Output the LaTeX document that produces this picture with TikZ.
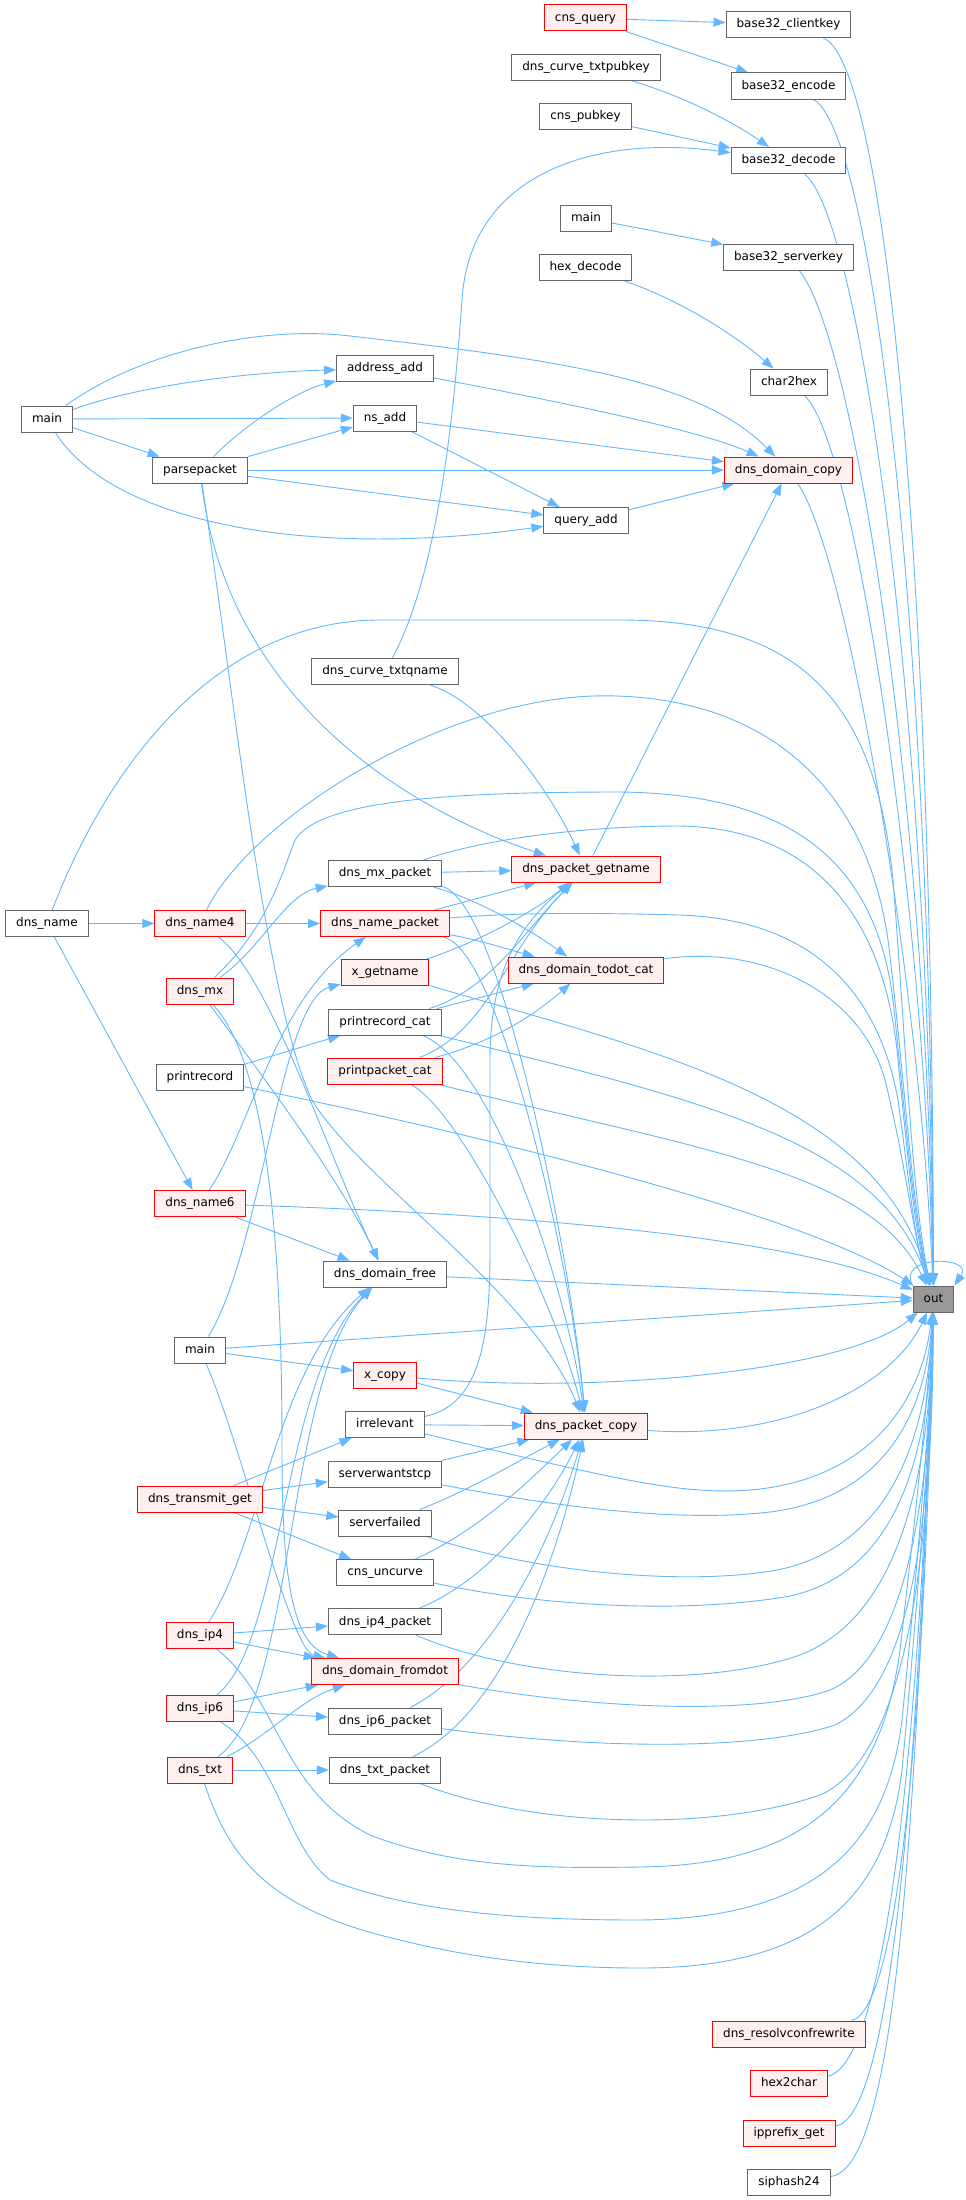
\documentclass[tikz,border=0pt]{standalone}
\usepackage{fontspec}
\setmainfont{DejaVu Sans}
\usetikzlibrary{arrows.meta}
\definecolor{edgec}{HTML}{63B8FF}
\definecolor{nodered}{HTML}{FF0000}
\definecolor{nodepink}{HTML}{FFF0F0}
\definecolor{nodegray}{HTML}{666666}
\definecolor{outfill}{HTML}{999999}
\pgfdeclarelayer{bg}
\pgfsetlayers{bg,main}
\begin{document}
\begin{tikzpicture}[x=1pt,y=-1pt,
  fn/.style={draw=nodegray, fill=white, line width=1pt, minimum height=26pt, inner xsep=10.5pt, inner ysep=0pt, font=\fontsize{12}{14}\selectfont, text height=9pt, text depth=2.5pt},
  fnred/.style={fn, draw=nodered, fill=nodepink},
  fnout/.style={fn, fill=outfill},
  edge/.style={draw=edgec, line width=0.9pt, -{Triangle[length=12pt,width=9pt]}},
]
\useasboundingbox (0,0) rectangle (966,2200);
% nodes
\node[fnred] (cnsquery) at (585.5,18) {cns\_query};
\node[fn] (b32ck) at (788.5,24.6) {base32\_clientkey};
\node[fn] (txtpubkey) at (586,67.5) {dns\_curve\_txtpubkey};
\node[fn] (b32enc) at (788.5,86) {base32\_encode};
\node[fn] (cnspubkey) at (585.5,116.6) {cns\_pubkey};
\node[fn] (b32dec) at (788.5,160.5) {base32\_decode};
\node[fn] (maint) at (586,218) {main};
\node[fn] (b32sk) at (788.5,257) {base32\_serverkey};
\node[fn] (hexdecode) at (585.5,267.6) {hex\_decode};
\node[fn] (char2hex) at (789,382) {char2hex};
\node[fn] (addressadd) at (385,368.6) {address\_add};
\node[fn] (mainl) at (47,419) {main};
\node[fn] (nsadd) at (385,418) {ns\_add};
\node[fn] (parsepacket) at (200,470) {parsepacket};
\node[fnred] (domcopy) at (788.5,470) {dns\_domain\_copy};
\node[fn] (queryadd) at (586,520.5) {query\_add};
\node[fn] (txtqname) at (385,671.5) {dns\_curve\_txtqname};
\node[fn] (mxpacket) at (385,873.5) {dns\_mx\_packet};
\node[fnred] (getname) at (586,869) {dns\_packet\_getname};
\node[fn] (dnsname) at (47,923.5) {dns\_name};
\node[fnred] (name4) at (200,923.5) {dns\_name4};
\node[fnred] (namepacket) at (385,923.5) {dns\_name\_packet};
\node[fnred] (todotcat) at (586,970) {dns\_domain\_todot\_cat};
\node[fnred] (xgetname) at (385,972.6) {x\_getname};
\node[fnred] (dnsmx) at (200,991) {dns\_mx};
\node[fn] (prcat) at (385,1022) {printrecord\_cat};
\node[fn] (printrecord) at (200,1077.6) {printrecord};
\node[fnred] (ppcat) at (385,1071) {printpacket\_cat};
\node[fnred] (name6) at (200,1203.6) {dns\_name6};
\node[fn] (domfree) at (385,1274) {dns\_domain\_free};
\node[fnout] (out) at (933.5,1299) {out};
\node[fn] (mainm) at (200,1350) {main};
\node[fnred] (xcopy) at (385,1375) {x\_copy};
\node[fn] (irrelevant) at (385,1424.6) {irrelevant};
\node[fnred] (pcopy) at (586,1426) {dns\_packet\_copy};
\node[fn] (swtcp) at (385,1474) {serverwantstcp};
\node[fnred] (transmitget) at (200,1499) {dns\_transmit\_get};
\node[fn] (sfailed) at (385,1523) {serverfailed};
\node[fn] (uncurve) at (385,1572.6) {cns\_uncurve};
\node[fn] (ip4packet) at (385,1621.8) {dns\_ip4\_packet};
\node[fnred] (ip4) at (200,1635.5) {dns\_ip4};
\node[fnred] (fromdot) at (385,1671.5) {dns\_domain\_fromdot};
\node[fnred] (ip6) at (200,1708.6) {dns\_ip6};
\node[fn] (ip6packet) at (385,1721) {dns\_ip6\_packet};
\node[fnred] (txt) at (200,1770) {dns\_txt};
\node[fn] (txtpacket) at (385,1770) {dns\_txt\_packet};
\node[fnred] (resolvconf) at (789,2034) {dns\_resolvconfrewrite};
\node[fnred] (hex2char) at (789,2083.5) {hex2char};
\node[fnred] (ipprefix) at (789,2133) {ipprefix\_get};
\node[fn] (siphash) at (789,2182) {siphash24};
\begin{pgfonlayer}{bg}
\fill[white] (0,0) rectangle (966,2200);
% top part
\draw[edge] (cnsquery) -- (b32ck);
\draw[edge] (cnsquery) -- (b32enc);
\draw[edge] (txtpubkey) .. controls (680,95) and (730,120) .. (b32dec);
\draw[edge] (cnspubkey) -- (b32dec);
\draw[edge] (txtqname) .. controls (440,570) and (455,400) .. (462,300) .. controls (470,170) and (600,135) .. (b32dec);
\draw[edge] (maint) -- (b32sk);
\draw[edge] (hexdecode) .. controls (680,300) and (735,335) .. (char2hex);
% to out, from above
\draw[edge] (b32ck) .. controls (880,60) and (932,500) .. (out);
\draw[edge] (b32enc) .. controls (870,130) and (930,600) .. (out);
\draw[edge] (b32dec) .. controls (860,220) and (928,700) .. (out);
\draw[edge] (b32sk) .. controls (855,340) and (926,800) .. (out);
\draw[edge] (char2hex) .. controls (855,440) and (924,900) .. (out);
\draw[edge] (domcopy) .. controls (850,560) and (921,1000) .. (out);
\draw[edge] (dnsname) .. controls (110,760) and (220,620) .. (380,620) -- (620,620) .. controls (800,620) and (875,700) .. (893,880) .. controls (905,1030) and (912,1200) .. (out);
\draw[edge] (name4) .. controls (250,820) and (450,690) .. (616,696) .. controls (760,700) and (865,780) .. (888,940) .. controls (903,1060) and (912,1210) .. (out);
\draw[edge] (dnsmx) .. controls (265,930) and (280,880) .. (295,840) .. controls (320,800) and (450,792) .. (620,792) .. controls (790,794) and (875,860) .. (893,1000) .. controls (905,1110) and (913,1220) .. (out);
\draw[edge] (mxpacket) .. controls (480,840) and (580,826) .. (680,826) .. controls (800,828) and (880,900) .. (897,1050) .. controls (907,1150) and (914,1230) .. (out);
\draw[edge] (namepacket) .. controls (520,912) and (600,913) .. (680,915) .. controls (820,920) and (880,1000) .. (898,1100) .. controls (908,1170) and (914,1240) .. (out);
\draw[edge] (todotcat) .. controls (760,945) and (860,990) .. (885,1080) .. controls (905,1160) and (914,1240) .. (out);
\draw[edge] (xgetname) .. controls (650,1050) and (880,1100) .. (out);
\draw[edge] (prcat) .. controls (700,1100) and (880,1140) .. (out);
\draw[edge] (ppcat) .. controls (700,1150) and (870,1170) .. (out);
\draw[edge] (printrecord) .. controls (600,1160) and (830,1230) .. (out);
\draw[edge] (name6) .. controls (550,1215) and (800,1240) .. (out);
\draw[edge] (domfree) -- (out);
\draw[edge] (mainm) -- (out);
\draw[edge] (xcopy) .. controls (600,1395) and (850,1370) .. (out);
\draw[edge] (pcopy) .. controls (780,1440) and (890,1390) .. (out);
\draw[edge] (irrelevant) .. controls (620,1480) and (680,1495) .. (750,1490) .. controls (870,1480) and (922,1400) .. (out);
\draw[edge] (swtcp) .. controls (600,1515) and (700,1520) .. (770,1512) .. controls (880,1498) and (925,1420) .. (out);
\draw[edge] (sfailed) .. controls (560,1580) and (720,1585) .. (790,1567) .. controls (885,1540) and (926,1450) .. (out);
\draw[edge] (uncurve) .. controls (560,1610) and (700,1612) .. (790,1596) .. controls (885,1575) and (928,1480) .. (out);
\draw[edge] (ip4packet) .. controls (520,1680) and (700,1690) .. (800,1655) .. controls (890,1620) and (929,1500) .. (out);
\draw[edge] (fromdot) .. controls (600,1710) and (760,1715) .. (830,1690) .. controls (900,1660) and (930,1520) .. (out);
\draw[edge] (ip6packet) .. controls (600,1750) and (760,1750) .. (835,1725) .. controls (905,1690) and (931,1550) .. (out);
\draw[edge] (txtpacket) .. controls (540,1830) and (720,1830) .. (820,1795) .. controls (900,1760) and (932,1580) .. (out);
\draw[edge] (ip4) .. controls (280,1700) and (280,1790) .. (370,1835) .. controls (460,1870) and (560,1868) .. (640,1867) .. controls (800,1865) and (880,1800) .. (900,1650) .. controls (915,1520) and (928,1400) .. (out);
\draw[edge] (ip6) .. controls (280,1760) and (285,1845) .. (330,1880) .. controls (420,1915) and (540,1920) .. (640,1920) .. controls (800,1918) and (885,1860) .. (902,1720) .. controls (918,1560) and (930,1420) .. (out);
\draw[edge] (txt) .. controls (230,1860) and (270,1910) .. (400,1940) .. controls (480,1960) and (560,1968) .. (640,1968) .. controls (800,1968) and (885,1910) .. (902,1770) .. controls (918,1600) and (930,1440) .. (out);
\draw[edge] (resolvconf) .. controls (900,2010) and (925,1700) .. (out);
\draw[edge] (hex2char) .. controls (885,2065) and (920,1750) .. (out);
\draw[edge] (ipprefix) .. controls (890,2118) and (918,1800) .. (out);
\draw[edge] (siphash) .. controls (895,2168) and (916,1850) .. (out);
\draw[edge] (out.north west) .. controls (895,1255) and (975,1255) .. (out.north east);
% upper left
\draw[edge] (mainl) .. controls (140,352) and (260,325) .. (350,336) .. controls (560,360) and (700,380) .. (domcopy);
\draw[edge] (mainl) .. controls (140,385) and (250,372) .. (addressadd);
\draw[edge] (mainl) -- (nsadd);
\draw[edge] (mainl) -- (parsepacket);
\draw[edge] (mainl) .. controls (110,520) and (300,560) .. (queryadd);
\draw[edge] (parsepacket) .. controls (250,420) and (300,390) .. (addressadd);
\draw[edge] (parsepacket) -- (nsadd);
\draw[edge] (parsepacket) -- (domcopy);
\draw[edge] (parsepacket) -- (queryadd);
\draw[edge] (addressadd) .. controls (550,400) and (700,430) .. (domcopy);
\draw[edge] (nsadd) -- (domcopy);
\draw[edge] (nsadd) -- (queryadd);
\draw[edge] (queryadd) -- (domcopy);
\draw[edge] (getname) -- (domcopy);
\draw[edge] (parsepacket) .. controls (225,680) and (380,800) .. (getname);
\draw[edge] (txtqname) .. controls (480,700) and (545,780) .. (getname);
\draw[edge] (parsepacket) .. controls (235,700) and (265,1000) .. (312,1100) .. controls (360,1180) and (530,1290) .. (pcopy);
% middle
\draw[edge] (dnsname) -- (name4);
\draw[edge] (dnsname) -- (name6);
\draw[edge] (name4) -- (namepacket);
\draw[edge] (mxpacket) -- (getname);
\draw[edge] (namepacket) -- (getname);
\draw[edge] (mxpacket) .. controls (480,900) and (530,930) .. (todotcat);
\draw[edge] (namepacket) .. controls (480,940) and (510,950) .. (todotcat);
\draw[edge] (mxpacket) .. controls (500,900) and (570,1250) .. (pcopy);
\draw[edge] (namepacket) .. controls (500,950) and (570,1260) .. (pcopy);
\draw[edge] (prcat) .. controls (490,1060) and (565,1280) .. (pcopy);
\draw[edge] (ppcat) .. controls (460,1110) and (555,1300) .. (pcopy);
\draw[edge] (xgetname) .. controls (470,945) and (530,915) .. (getname);
\draw[edge] (prcat) .. controls (490,990) and (525,930) .. (getname);
\draw[edge] (ppcat) .. controls (490,1030) and (505,950) .. (getname);
\draw[edge] (prcat) -- (todotcat);
\draw[edge] (ppcat) .. controls (500,1040) and (540,1010) .. (todotcat);
\draw[edge] (irrelevant) .. controls (480,1405) and (490,1340) .. (490,1250) -- (490,1060) .. controls (490,970) and (520,925) .. (getname);
\draw[edge] (dnsmx) .. controls (260,950) and (285,895) .. (mxpacket);
\draw[edge] (name6) .. controls (250,1130) and (275,1000) .. (namepacket);
\draw[edge] (mainm) .. controls (262,1250) and (280,1000) .. (xgetname);
\draw[edge] (mainm) -- (xcopy);
\draw[edge] (mainm) .. controls (240,1440) and (290,1650) .. (fromdot);
\draw[edge] (name4) .. controls (270,975) and (330,1160) .. (domfree);
\draw[edge] (dnsmx) .. controls (250,1060) and (335,1170) .. (domfree);
\draw[edge] (dnsmx) .. controls (275,1070) and (282,1300) .. (282,1450) .. controls (282,1590) and (295,1645) .. (fromdot);
\draw[edge] (name6) -- (domfree);
\draw[edge] (printrecord) -- (prcat);
\draw[edge] (ip4) .. controls (262,1540) and (275,1370) .. (domfree);
\draw[edge] (ip6) .. controls (285,1640) and (280,1380) .. (domfree);
\draw[edge] (txt) .. controls (295,1700) and (285,1380) .. (domfree);
% lower
\draw[edge] (transmitget) -- (irrelevant);
\draw[edge] (transmitget) -- (swtcp);
\draw[edge] (transmitget) -- (sfailed);
\draw[edge] (transmitget) -- (uncurve);
\draw[edge] (ip4) -- (ip4packet);
\draw[edge] (ip4) -- (fromdot);
\draw[edge] (ip6) -- (fromdot);
\draw[edge] (ip6) -- (ip6packet);
\draw[edge] (txt) -- (txtpacket);
\draw[edge] (txt) .. controls (270,1735) and (300,1700) .. (fromdot);
\draw[edge] (xcopy) -- (pcopy);
\draw[edge] (irrelevant) -- (pcopy);
\draw[edge] (swtcp) -- (pcopy);
\draw[edge] (sfailed) .. controls (470,1490) and (520,1460) .. (pcopy);
\draw[edge] (uncurve) .. controls (480,1530) and (530,1480) .. (pcopy);
\draw[edge] (ip4packet) .. controls (490,1580) and (550,1500) .. (pcopy);
\draw[edge] (ip6packet) .. controls (500,1660) and (555,1530) .. (pcopy);
\draw[edge] (txtpacket) .. controls (510,1710) and (562,1540) .. (pcopy);
\end{pgfonlayer}
\end{tikzpicture}
\end{document}
